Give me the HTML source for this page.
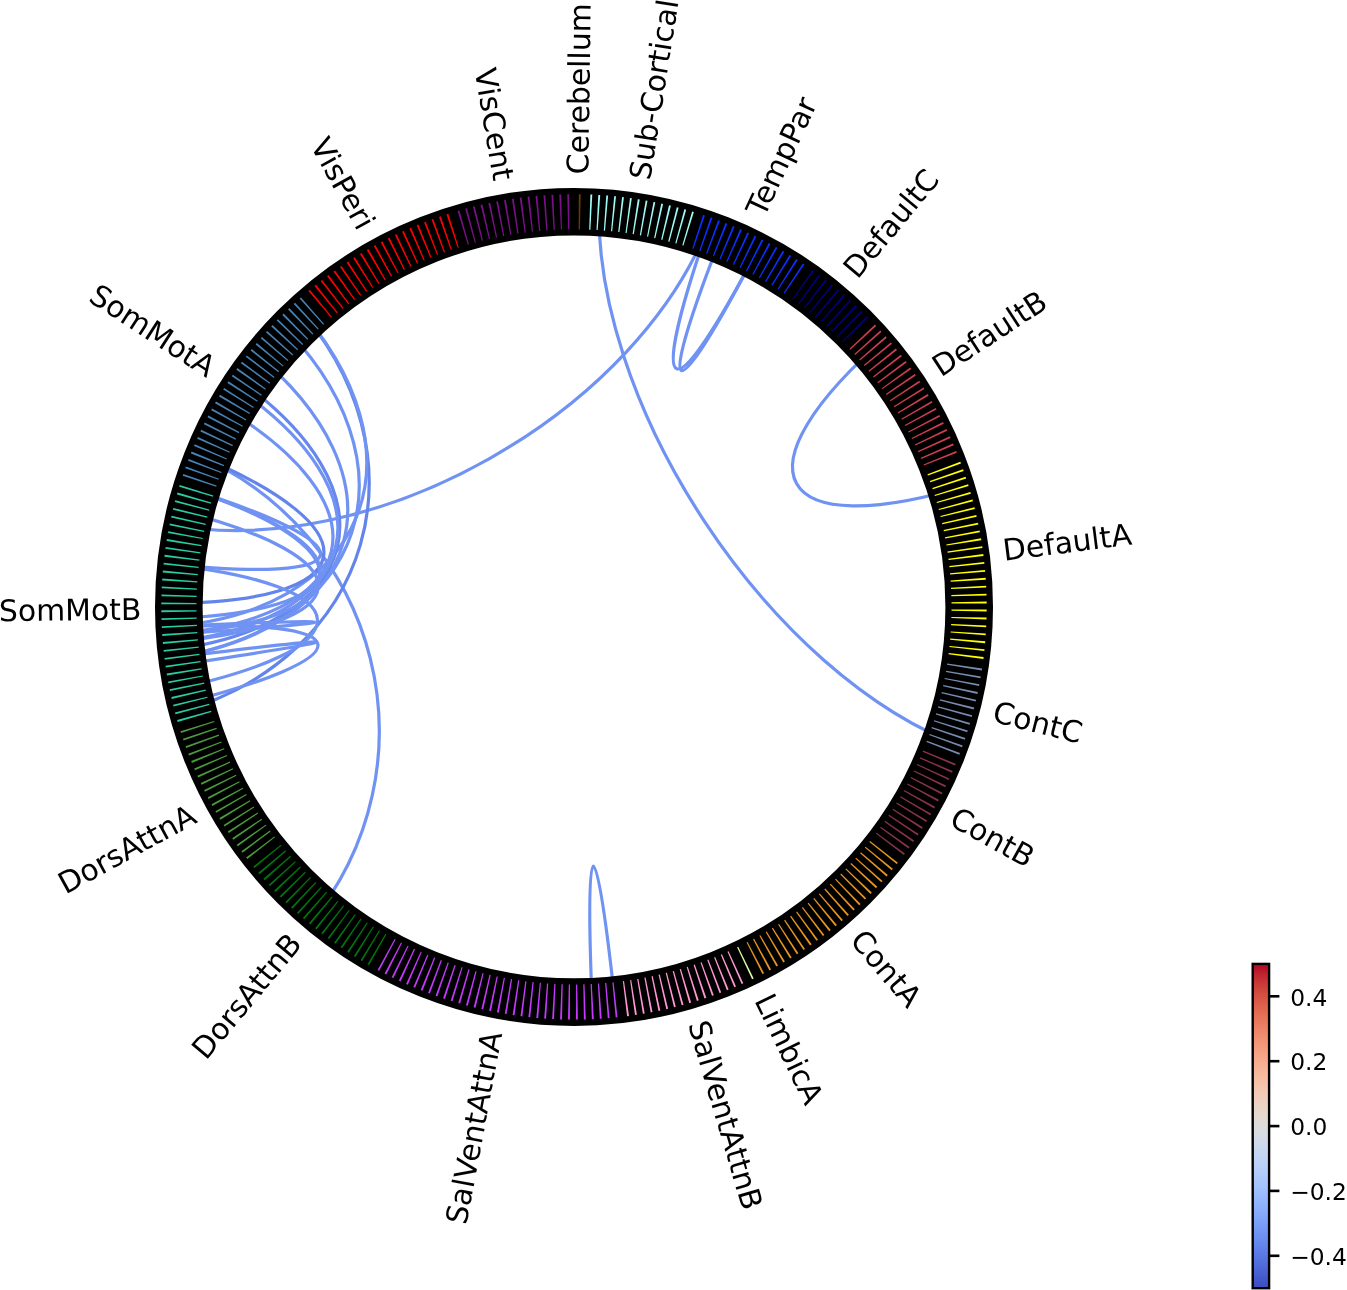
<!DOCTYPE html>
<html lang="en"><head><meta charset="utf-8"><title>Connectivity circle</title>
<style>html,body{margin:0;padding:0;background:#fff}body{width:1347px;height:1290px;overflow:hidden}svg{display:block}</style></head>
<body>
<svg width="1347" height="1290" viewBox="0 0 1347 1290">
<rect width="1347" height="1290" fill="#fff"/>
<g fill="none" stroke-width="3.2">
<path d="M599.5 191.7C586.7 399.3 769.7 677.2 965.5 747.6" stroke="#7093f3"/>
<path d="M712.6 214.7C643.3 410.8 370.2 565.3 166.4 523.7" stroke="#7093f3"/>
<path d="M712.6 214.7C643.3 410.8 669.0 421.9 764.1 236.9" stroke="#7093f3"/>
<path d="M727.6 220.3C650.8 413.6 669.0 421.9 764.1 236.9" stroke="#7093f3"/>
<path d="M888.7 334.9C731.4 470.9 772.7 545.5 971.5 484.2" stroke="#7093f3"/>
<path d="M616.9 1020.7C595.5 813.8 583.5 814.7 593.0 1022.5" stroke="#7093f3"/>
<path d="M307.5 926.4C440.8 766.6 381.1 529.1 188.2 451.3" stroke="#7093f3"/>
<path d="M292.2 300.9C433.1 453.9 373.0 660.6 172.1 714.2" stroke="#6384eb"/>
<path d="M292.2 300.9C433.1 453.9 366.3 617.1 158.5 627.3" stroke="#7093f3"/>
<path d="M275.0 317.7C424.5 462.3 367.7 633.1 161.3 659.2" stroke="#7093f3"/>
<path d="M248.6 347.8C411.3 477.3 367.7 633.1 161.3 659.2" stroke="#7093f3"/>
<path d="M229.6 373.6C401.8 490.2 367.2 629.1 160.4 651.3" stroke="#6687ed"/>
<path d="M225.2 380.3C399.6 493.6 366.8 625.1 159.6 643.3" stroke="#7093f3"/>
<path d="M212.6 400.8C393.3 503.9 366.5 621.1 159.0 635.3" stroke="#7093f3"/>
<path d="M188.2 451.3C381.1 529.1 366.0 605.1 158.0 603.3" stroke="#6384eb"/>
<path d="M176.3 484.9C375.1 545.9 367.1 585.1 160.3 563.3" stroke="#7093f3"/>
<path d="M176.3 484.9C375.1 545.9 366.1 613.1 158.2 619.3" stroke="#7093f3"/>
<path d="M176.3 484.9C375.1 545.9 366.5 621.1 159.0 635.3" stroke="#7093f3"/>
<path d="M169.9 508.1C372.0 557.5 366.8 625.1 159.6 643.3" stroke="#7093f3"/>
<path d="M160.3 563.3C367.1 585.1 370.3 648.9 166.6 690.8" stroke="#7093f3"/>
<path d="M158.5 627.3C366.3 617.1 372.0 656.7 170.1 706.5" stroke="#7093f3"/>
<path d="M158.5 627.3C366.3 617.1 366.5 621.1 159.0 635.3" stroke="#7093f3"/>
<path d="M161.3 659.2C367.7 633.1 368.2 637.0 162.4 667.2" stroke="#7093f3"/>
</g>
<circle cx="574.0" cy="606.9" r="395.20" fill="none" stroke="#000" stroke-width="47.60"/>
<g fill="#781286">
<path d="M569.3 229.4L569.2 194.2L567.3 194.3L568.1 229.4Z"/>
<path d="M562.0 229.6L561.2 194.4L559.3 194.5L560.9 229.6Z"/>
<path d="M554.8 229.9L553.3 194.7L551.4 194.8L553.6 230.0Z"/>
<path d="M547.5 230.3L545.3 195.2L543.5 195.3L546.3 230.4Z"/>
<path d="M540.3 230.9L537.4 195.8L535.5 196.0L539.1 231.0Z"/>
<path d="M533.0 231.6L529.5 196.6L527.6 196.8L531.8 231.8Z"/>
<path d="M525.8 232.5L521.6 197.5L519.7 197.8L524.6 232.6Z"/>
<path d="M518.6 233.5L513.7 198.6L511.9 198.9L517.4 233.7Z"/>
<path d="M511.4 234.6L505.9 199.9L504.0 200.2L510.2 234.8Z"/>
<path d="M504.3 235.9L498.0 201.2L496.2 201.6L503.1 236.1Z"/>
<path d="M497.1 237.3L490.2 202.8L488.4 203.2L496.0 237.6Z"/>
<path d="M490.0 238.9L482.5 204.5L480.6 204.9L488.9 239.1Z"/>
<path d="M483.0 240.5L474.7 206.3L472.9 206.8L481.8 240.8Z"/>
<path d="M475.9 242.4L467.0 208.3L465.2 208.8L474.8 242.7Z"/>
<path d="M468.9 244.3L459.4 210.4L457.6 211.0L467.8 244.7Z"/>
</g>
<g fill="#ff0000">
<path d="M458.8 247.4L448.3 213.8L446.5 214.4L457.7 247.8Z"/>
<path d="M451.9 249.7L440.8 216.3L439.0 216.9L450.8 250.1Z"/>
<path d="M445.0 252.1L433.3 218.9L431.5 219.6L443.9 252.5Z"/>
<path d="M438.2 254.7L425.8 221.7L424.1 222.4L437.1 255.1Z"/>
<path d="M431.5 257.3L418.4 224.6L416.7 225.3L430.4 257.8Z"/>
<path d="M424.8 260.2L411.1 227.7L409.4 228.4L423.7 260.6Z"/>
<path d="M418.1 263.1L403.8 230.9L402.1 231.7L417.0 263.6Z"/>
<path d="M411.5 266.2L396.6 234.3L394.9 235.1L410.4 266.7Z"/>
<path d="M405.0 269.4L389.5 237.7L387.8 238.6L403.9 269.9Z"/>
<path d="M398.5 272.7L382.4 241.4L380.7 242.2L397.5 273.2Z"/>
<path d="M392.1 276.1L375.4 245.1L373.8 246.0L391.1 276.7Z"/>
<path d="M385.8 279.7L368.5 249.0L366.8 250.0L384.7 280.3Z"/>
<path d="M379.5 283.4L361.6 253.0L360.0 254.0L378.5 284.0Z"/>
<path d="M373.3 287.2L354.8 257.2L353.2 258.2L372.3 287.8Z"/>
<path d="M367.2 291.1L348.1 261.5L346.6 262.5L366.2 291.8Z"/>
<path d="M361.1 295.1L341.5 265.9L340.0 267.0L360.2 295.8Z"/>
<path d="M355.2 299.3L335.0 270.5L333.5 271.5L354.2 300.0Z"/>
<path d="M349.3 303.6L328.6 275.1L327.1 276.2L348.3 304.3Z"/>
<path d="M343.5 308.0L322.2 279.9L320.7 281.1L342.5 308.7Z"/>
<path d="M337.8 312.5L316.0 284.8L314.5 286.0L336.8 313.2Z"/>
<path d="M332.1 317.1L309.8 289.8L308.4 291.0L331.2 317.8Z"/>
</g>
<g fill="#4682b4">
<path d="M324.1 323.9L301.0 297.4L299.6 298.6L323.2 324.7Z"/>
<path d="M318.7 328.8L295.1 302.7L293.7 303.9L317.8 329.6Z"/>
<path d="M313.4 333.8L289.3 308.1L288.0 309.4L312.5 334.6Z"/>
<path d="M308.2 338.8L283.6 313.6L282.3 315.0L307.3 339.7Z"/>
<path d="M303.1 344.0L278.0 319.3L276.7 320.6L302.3 344.9Z"/>
<path d="M298.1 349.3L272.5 325.1L271.3 326.4L297.3 350.2Z"/>
<path d="M293.2 354.6L267.2 330.9L265.9 332.3L292.4 355.5Z"/>
<path d="M288.3 360.1L261.9 336.9L260.7 338.3L287.6 361.0Z"/>
<path d="M283.6 365.7L256.8 342.9L255.6 344.4L282.9 366.6Z"/>
<path d="M279.1 371.3L251.7 349.1L250.6 350.6L278.3 372.2Z"/>
<path d="M274.6 377.0L246.8 355.4L245.7 356.8L273.8 378.0Z"/>
<path d="M270.2 382.8L242.0 361.7L240.9 363.2L269.5 383.8Z"/>
<path d="M265.9 388.7L237.4 368.1L236.3 369.7L265.2 389.7Z"/>
<path d="M261.8 394.7L232.8 374.7L231.8 376.2L261.1 395.7Z"/>
<path d="M257.8 400.7L228.4 381.3L227.4 382.9L257.1 401.7Z"/>
<path d="M253.8 406.9L224.1 388.0L223.2 389.6L253.2 407.9Z"/>
<path d="M250.1 413.1L220.0 394.8L219.0 396.4L249.4 414.1Z"/>
<path d="M246.4 419.4L216.0 401.6L215.0 403.2L245.8 420.4Z"/>
<path d="M242.8 425.7L212.1 408.6L211.2 410.2L242.3 426.8Z"/>
<path d="M239.4 432.1L208.3 415.6L207.5 417.2L238.8 433.2Z"/>
<path d="M236.1 438.6L204.7 422.6L203.9 424.3L235.6 439.7Z"/>
<path d="M232.9 445.1L201.2 429.8L200.4 431.5L232.4 446.2Z"/>
<path d="M229.9 451.7L197.9 437.0L197.1 438.7L229.4 452.8Z"/>
<path d="M226.9 458.4L194.7 444.3L194.0 446.0L226.5 459.5Z"/>
<path d="M224.1 465.1L191.6 451.6L190.9 453.4L223.7 466.2Z"/>
<path d="M221.5 471.9L188.7 459.0L188.0 460.8L221.1 473.0Z"/>
<path d="M218.9 478.7L185.9 466.5L185.3 468.2L218.5 479.8Z"/>
<path d="M216.5 485.6L183.3 474.0L182.7 475.7L216.2 486.7Z"/>
</g>
<g fill="#2acca4">
<path d="M213.3 495.6L179.7 485.0L179.2 486.7L212.9 496.7Z"/>
<path d="M211.2 502.6L177.5 492.6L176.9 494.4L210.9 503.7Z"/>
<path d="M209.3 509.6L175.3 500.2L174.8 502.0L209.0 510.7Z"/>
<path d="M207.5 516.6L173.3 507.9L172.9 509.7L207.2 517.8Z"/>
<path d="M205.8 523.7L171.5 515.7L171.1 517.5L205.5 524.9Z"/>
<path d="M204.2 530.8L169.8 523.4L169.5 525.3L204.0 532.0Z"/>
<path d="M202.9 537.9L168.3 531.2L168.0 533.1L202.6 539.1Z"/>
<path d="M201.6 545.1L166.9 539.1L166.6 540.9L201.4 546.3Z"/>
<path d="M200.5 552.3L165.7 546.9L165.4 548.8L200.3 553.5Z"/>
<path d="M199.5 559.5L164.6 554.8L164.4 556.7L199.3 560.7Z"/>
<path d="M198.6 566.7L163.7 562.7L163.5 564.6L198.5 567.9Z"/>
<path d="M197.9 574.0L162.9 570.6L162.7 572.5L197.8 575.2Z"/>
<path d="M197.4 581.2L162.3 578.5L162.2 580.4L197.3 582.4Z"/>
<path d="M196.9 588.5L161.8 586.5L161.7 588.3L196.9 589.7Z"/>
<path d="M196.7 595.7L161.5 594.4L161.4 596.3L196.6 596.9Z"/>
<path d="M196.5 603.0L161.3 602.4L161.3 604.2L196.5 604.2Z"/>
<path d="M196.5 610.3L161.3 610.3L161.3 612.2L196.5 611.5Z"/>
<path d="M196.6 617.6L161.5 618.3L161.5 620.1L196.7 618.7Z"/>
<path d="M196.9 624.8L161.8 626.2L161.8 628.1L197.0 626.0Z"/>
<path d="M197.3 632.1L162.2 634.1L162.3 636.0L197.4 633.3Z"/>
<path d="M197.9 639.3L162.8 642.1L163.0 643.9L198.0 640.5Z"/>
<path d="M198.6 646.6L163.6 650.0L163.8 651.8L198.7 647.8Z"/>
<path d="M199.4 653.8L164.5 657.9L164.7 659.7L199.6 655.0Z"/>
<path d="M200.4 661.0L165.5 665.8L165.8 667.6L200.6 662.2Z"/>
<path d="M201.5 668.2L166.7 673.6L167.0 675.5L201.7 669.4Z"/>
<path d="M202.8 675.4L168.1 681.5L168.4 683.3L203.0 676.5Z"/>
<path d="M204.1 682.5L169.6 689.3L170.0 691.1L204.4 683.7Z"/>
<path d="M205.7 689.6L171.3 697.0L171.7 698.9L205.9 690.8Z"/>
<path d="M207.3 696.7L173.1 704.8L173.5 706.6L207.6 697.8Z"/>
<path d="M209.1 703.7L175.0 712.5L175.5 714.3L209.4 704.9Z"/>
<path d="M211.1 710.7L177.1 720.1L177.7 721.9L211.4 711.9Z"/>
</g>
<g fill="#4a9b3c">
<path d="M214.1 720.9L180.5 731.2L181.0 733.0L214.5 722.0Z"/>
<path d="M216.4 727.8L182.9 738.8L183.5 740.5L216.8 728.9Z"/>
<path d="M218.8 734.6L185.5 746.3L186.2 748.0L219.2 735.8Z"/>
<path d="M221.3 741.5L188.3 753.7L189.0 755.5L221.7 742.6Z"/>
<path d="M224.0 748.2L191.2 761.1L191.9 762.9L224.4 749.3Z"/>
<path d="M226.7 754.9L194.2 768.5L195.0 770.2L227.2 756.0Z"/>
<path d="M229.7 761.6L197.4 775.8L198.2 777.5L230.1 762.7Z"/>
<path d="M232.7 768.2L200.8 783.0L201.6 784.7L233.2 769.3Z"/>
<path d="M235.9 774.8L204.2 790.1L205.0 791.8L236.4 775.8Z"/>
<path d="M239.2 781.2L207.8 797.2L208.7 798.9L239.7 782.3Z"/>
<path d="M242.6 787.7L211.5 804.3L212.4 805.9L243.2 788.7Z"/>
<path d="M246.1 794.0L215.4 811.2L216.3 812.8L246.7 795.0Z"/>
<path d="M249.8 800.3L219.4 818.1L220.4 819.7L250.4 801.3Z"/>
<path d="M253.6 806.5L223.6 824.9L224.5 826.4L254.2 807.5Z"/>
<path d="M257.5 812.6L227.8 831.6L228.8 833.1L258.1 813.6Z"/>
<path d="M261.5 818.7L232.2 838.2L233.3 839.7L262.2 819.7Z"/>
<path d="M265.6 824.7L236.7 844.7L237.8 846.3L266.3 825.6Z"/>
<path d="M269.9 830.6L241.4 851.2L242.5 852.7L270.6 831.5Z"/>
<path d="M274.3 836.4L246.1 857.6L247.3 859.0L275.0 837.3Z"/>
</g>
<g fill="#00760e">
<path d="M280.8 844.7L253.3 866.6L254.5 868.1L281.6 845.6Z"/>
<path d="M285.4 850.3L258.3 872.8L259.6 874.2L286.2 851.2Z"/>
<path d="M290.2 855.8L263.5 878.8L264.8 880.2L291.0 856.7Z"/>
<path d="M295.0 861.2L268.8 884.7L270.1 886.1L295.8 862.1Z"/>
<path d="M300.0 866.5L274.2 890.6L275.5 891.9L300.8 867.4Z"/>
<path d="M305.0 871.8L279.7 896.3L281.1 897.6L305.9 872.6Z"/>
<path d="M310.2 876.9L285.4 901.9L286.7 903.2L311.0 877.7Z"/>
<path d="M315.4 881.9L291.1 907.4L292.5 908.7L316.3 882.8Z"/>
<path d="M320.8 886.9L297.0 912.8L298.3 914.0L321.7 887.7Z"/>
<path d="M326.2 891.7L302.9 918.1L304.3 919.3L327.1 892.5Z"/>
<path d="M331.7 896.4L308.9 923.2L310.4 924.4L332.7 897.2Z"/>
<path d="M337.4 901.0L315.1 928.3L316.5 929.4L338.3 901.8Z"/>
<path d="M343.1 905.5L321.3 933.2L322.8 934.3L344.0 906.3Z"/>
<path d="M348.9 909.9L327.7 938.0L329.2 939.1L349.8 910.6Z"/>
<path d="M354.8 914.2L334.1 942.7L335.6 943.8L355.7 914.9Z"/>
<path d="M360.7 918.4L340.6 947.3L342.1 948.3L361.7 919.0Z"/>
<path d="M366.8 922.4L347.2 951.7L348.8 952.7L367.8 923.1Z"/>
<path d="M372.9 926.4L353.9 956.0L355.5 957.0L373.9 927.0Z"/>
<path d="M379.1 930.2L360.6 960.2L362.2 961.1L380.1 930.8Z"/>
<path d="M385.3 933.9L367.5 964.2L369.1 965.1L386.4 934.5Z"/>
</g>
<g fill="#c43afa">
<path d="M394.6 939.0L377.6 969.9L379.2 970.7L395.6 939.6Z"/>
<path d="M401.0 942.4L384.6 973.6L386.3 974.4L402.0 943.0Z"/>
<path d="M407.5 945.7L391.7 977.2L393.4 978.0L408.5 946.2Z"/>
<path d="M414.0 948.8L398.9 980.6L400.6 981.4L415.1 949.3Z"/>
<path d="M420.7 951.8L406.1 983.9L407.8 984.7L421.7 952.3Z"/>
<path d="M427.3 954.7L413.4 987.1L415.1 987.8L428.4 955.2Z"/>
<path d="M434.1 957.5L420.7 990.1L422.5 990.8L435.2 957.9Z"/>
<path d="M440.8 960.1L428.1 993.0L429.9 993.6L441.9 960.6Z"/>
<path d="M447.7 962.6L435.6 995.7L437.4 996.3L448.8 963.0Z"/>
<path d="M454.5 965.0L443.1 998.3L444.9 998.9L455.7 965.4Z"/>
<path d="M461.5 967.2L450.7 1000.7L452.5 1001.3L462.6 967.6Z"/>
<path d="M468.4 969.3L458.3 1003.1L460.1 1003.6L469.6 969.7Z"/>
<path d="M475.4 971.3L466.0 1005.2L467.8 1005.7L476.6 971.6Z"/>
<path d="M482.5 973.1L473.6 1007.2L475.5 1007.7L483.6 973.4Z"/>
<path d="M489.5 974.8L481.4 1009.1L483.2 1009.5L490.7 975.1Z"/>
<path d="M496.6 976.4L489.1 1010.8L491.0 1011.2L497.8 976.6Z"/>
<path d="M503.8 977.8L496.9 1012.3L498.8 1012.7L504.9 978.0Z"/>
<path d="M510.9 979.1L504.8 1013.8L506.6 1014.1L512.1 979.3Z"/>
<path d="M518.1 980.2L512.6 1015.0L514.5 1015.3L519.3 980.4Z"/>
<path d="M525.3 981.2L520.5 1016.1L522.3 1016.4L526.5 981.4Z"/>
<path d="M532.5 982.1L528.4 1017.1L530.2 1017.3L533.7 982.2Z"/>
<path d="M539.8 982.8L536.3 1017.9L538.2 1018.0L540.9 983.0Z"/>
<path d="M547.0 983.4L544.2 1018.5L546.1 1018.7L548.2 983.5Z"/>
<path d="M554.3 983.9L552.1 1019.0L554.0 1019.1L555.5 983.9Z"/>
<path d="M561.5 984.2L560.1 1019.4L562.0 1019.4L562.7 984.2Z"/>
<path d="M568.8 984.4L568.0 1019.6L569.9 1019.6L570.0 984.4Z"/>
<path d="M576.1 984.4L576.0 1019.6L577.9 1019.6L577.3 984.4Z"/>
<path d="M583.3 984.3L583.9 1019.5L585.8 1019.4L584.5 984.3Z"/>
<path d="M590.6 984.0L591.9 1019.2L593.8 1019.1L591.8 984.0Z"/>
<path d="M597.9 983.6L599.8 1018.8L601.7 1018.7L599.1 983.6Z"/>
<path d="M605.1 983.1L607.8 1018.2L609.6 1018.1L606.3 983.0Z"/>
<path d="M612.4 982.4L615.7 1017.5L617.5 1017.3L613.6 982.3Z"/>
</g>
<g fill="#ff98d5">
<path d="M622.9 981.2L627.1 1016.2L629.0 1015.9L624.0 981.1Z"/>
<path d="M630.1 980.2L635.0 1015.1L636.9 1014.8L631.2 980.0Z"/>
<path d="M637.2 979.1L642.9 1013.8L644.7 1013.5L638.4 978.9Z"/>
<path d="M644.4 977.8L650.7 1012.4L652.5 1012.1L645.6 977.6Z"/>
<path d="M651.5 976.4L658.5 1010.9L660.3 1010.5L652.7 976.1Z"/>
<path d="M658.6 974.8L666.3 1009.2L668.1 1008.7L659.8 974.5Z"/>
<path d="M665.7 973.1L674.0 1007.3L675.8 1006.8L666.9 972.8Z"/>
<path d="M672.7 971.3L681.7 1005.3L683.5 1004.8L673.9 970.9Z"/>
<path d="M679.7 969.3L689.3 1003.2L691.1 1002.6L680.9 969.0Z"/>
<path d="M686.7 967.2L696.9 1000.9L698.7 1000.3L687.8 966.8Z"/>
<path d="M693.6 964.9L704.5 998.4L706.3 997.8L694.8 964.6Z"/>
<path d="M700.5 962.6L712.0 995.8L713.8 995.2L701.6 962.2Z"/>
<path d="M707.3 960.1L719.5 993.1L721.2 992.4L708.4 959.6Z"/>
<path d="M714.1 957.4L726.9 990.2L728.6 989.5L715.2 957.0Z"/>
<path d="M720.8 954.7L734.3 987.2L736.0 986.5L721.9 954.2Z"/>
<path d="M727.5 951.8L741.6 984.1L743.3 983.3L728.6 951.3Z"/>
</g>
<g fill="#dcf8a4">
<path d="M737.1 947.3L752.1 979.2L753.7 978.4L738.2 946.8Z"/>
</g>
<g fill="#e69422">
<path d="M746.6 942.6L762.4 974.1L764.1 973.2L747.6 942.1Z"/>
<path d="M753.0 939.3L769.4 970.4L771.1 969.5L754.1 938.7Z"/>
<path d="M759.4 935.8L776.4 966.6L778.0 965.6L760.4 935.2Z"/>
<path d="M765.7 932.1L783.3 962.6L784.9 961.6L766.7 931.5Z"/>
<path d="M771.9 928.4L790.1 958.5L791.7 957.5L772.9 927.7Z"/>
<path d="M778.1 924.5L796.8 954.3L798.4 953.3L779.1 923.9Z"/>
<path d="M784.1 920.5L803.5 949.9L805.0 948.9L785.1 919.8Z"/>
<path d="M790.1 916.4L810.1 945.4L811.6 944.3L791.1 915.7Z"/>
<path d="M796.1 912.2L816.5 940.8L818.0 939.7L797.0 911.5Z"/>
<path d="M801.9 907.8L822.9 936.1L824.4 934.9L802.8 907.1Z"/>
<path d="M807.7 903.4L829.2 931.2L830.7 930.1L808.6 902.7Z"/>
<path d="M813.3 898.8L835.4 926.2L836.9 925.1L814.2 898.1Z"/>
<path d="M818.9 894.2L841.5 921.2L842.9 919.9L819.8 893.4Z"/>
<path d="M824.4 889.4L847.5 915.9L848.9 914.7L825.3 888.6Z"/>
<path d="M829.8 884.5L853.4 910.6L854.8 909.3L830.7 883.7Z"/>
<path d="M835.1 879.6L859.2 905.2L860.6 903.9L835.9 878.7Z"/>
<path d="M840.3 874.5L864.9 899.6L866.2 898.3L841.1 873.6Z"/>
<path d="M845.4 869.3L870.5 894.0L871.8 892.6L846.2 868.4Z"/>
<path d="M850.4 864.0L876.0 888.2L877.3 886.8L851.2 863.1Z"/>
<path d="M855.3 858.6L881.3 882.3L882.6 880.9L856.1 857.8Z"/>
<path d="M860.1 853.2L886.6 876.4L887.8 874.9L860.9 852.3Z"/>
<path d="M864.8 847.6L891.7 870.3L892.9 868.8L865.5 846.7Z"/>
<path d="M869.4 842.0L896.7 864.1L897.9 862.7L870.1 841.0Z"/>
</g>
<g fill="#87324a">
<path d="M875.8 833.6L903.8 855.0L904.9 853.5L876.6 832.7Z"/>
<path d="M880.1 827.8L908.5 848.6L909.6 847.1L880.8 826.8Z"/>
<path d="M884.3 821.8L913.1 842.1L914.2 840.6L885.0 820.8Z"/>
<path d="M888.4 815.8L917.6 835.5L918.6 834.0L889.1 814.8Z"/>
<path d="M892.4 809.7L921.9 828.9L922.9 827.3L893.0 808.7Z"/>
<path d="M896.2 803.5L926.1 822.1L927.1 820.5L896.9 802.5Z"/>
<path d="M900.0 797.3L930.2 815.3L931.2 813.7L900.6 796.3Z"/>
<path d="M903.6 791.0L934.2 808.4L935.1 806.8L904.2 789.9Z"/>
<path d="M907.1 784.6L938.0 801.4L938.9 799.8L907.6 783.5Z"/>
<path d="M910.4 778.1L941.7 794.4L942.5 792.7L911.0 777.1Z"/>
<path d="M913.7 771.6L945.2 787.3L946.0 785.6L914.2 770.6Z"/>
<path d="M916.8 765.1L948.6 780.1L949.4 778.4L917.3 764.0Z"/>
<path d="M919.8 758.4L951.9 772.8L952.6 771.1L920.2 757.3Z"/>
<path d="M922.6 751.7L955.0 765.5L955.7 763.8L923.1 750.6Z"/>
</g>
<g fill="#778cb0">
<path d="M926.5 741.9L959.3 754.8L960.0 753.0L926.9 740.8Z"/>
<path d="M929.1 735.1L962.1 747.3L962.7 745.6L929.5 734.0Z"/>
<path d="M931.5 728.2L964.7 739.8L965.3 738.1L931.8 727.1Z"/>
<path d="M933.7 721.3L967.2 732.3L967.8 730.5L934.1 720.2Z"/>
<path d="M935.9 714.4L969.5 724.7L970.1 722.9L936.2 713.2Z"/>
<path d="M937.9 707.4L971.7 717.0L972.2 715.2L938.2 706.2Z"/>
<path d="M939.7 700.4L973.8 709.4L974.2 707.5L940.0 699.2Z"/>
<path d="M941.5 693.3L975.7 701.6L976.1 699.8L941.7 692.1Z"/>
<path d="M943.1 686.2L977.4 693.9L977.8 692.1L943.3 685.0Z"/>
<path d="M944.5 679.1L979.0 686.1L979.4 684.3L944.8 677.9Z"/>
<path d="M945.9 671.9L980.5 678.3L980.8 676.4L946.1 670.8Z"/>
<path d="M947.0 664.8L981.8 670.4L982.1 668.6L947.2 663.6Z"/>
</g>
<g fill="#ffff00">
<path d="M948.5 654.3L983.4 659.0L983.6 657.1L948.7 653.1Z"/>
<path d="M949.4 647.1L984.3 651.1L984.5 649.2L949.5 645.9Z"/>
<path d="M950.1 639.8L985.1 643.2L985.3 641.3L950.2 638.6Z"/>
<path d="M950.6 632.6L985.7 635.3L985.8 633.4L950.7 631.4Z"/>
<path d="M951.1 625.3L986.2 627.3L986.3 625.5L951.1 624.1Z"/>
<path d="M951.3 618.1L986.5 619.4L986.6 617.5L951.4 616.9Z"/>
<path d="M951.5 610.8L986.7 611.4L986.7 609.6L951.5 609.6Z"/>
<path d="M951.5 603.5L986.7 603.5L986.7 601.6L951.5 602.3Z"/>
<path d="M951.4 596.2L986.5 595.5L986.5 593.7L951.3 595.1Z"/>
<path d="M951.1 589.0L986.2 587.6L986.2 585.7L951.0 587.8Z"/>
<path d="M950.7 581.7L985.8 579.7L985.7 577.8L950.6 580.5Z"/>
<path d="M950.1 574.5L985.2 571.7L985.0 569.9L950.0 573.3Z"/>
<path d="M949.4 567.2L984.4 563.8L984.2 562.0L949.3 566.0Z"/>
<path d="M948.6 560.0L983.5 555.9L983.3 554.1L948.4 558.8Z"/>
<path d="M947.6 552.8L982.5 548.0L982.2 546.2L947.4 551.6Z"/>
<path d="M946.5 545.6L981.3 540.2L981.0 538.3L946.3 544.4Z"/>
<path d="M945.2 538.4L979.9 532.3L979.6 530.5L945.0 537.3Z"/>
<path d="M943.9 531.3L978.4 524.5L978.0 522.7L943.6 530.1Z"/>
<path d="M942.3 524.2L976.7 516.8L976.3 514.9L942.1 523.0Z"/>
<path d="M940.7 517.1L974.9 509.0L974.5 507.2L940.4 516.0Z"/>
<path d="M938.9 510.1L973.0 501.3L972.5 499.5L938.6 508.9Z"/>
<path d="M936.9 503.1L970.9 493.7L970.3 491.9L936.6 501.9Z"/>
<path d="M934.9 496.1L968.6 486.0L968.1 484.2L934.5 494.9Z"/>
<path d="M932.7 489.2L966.2 478.4L965.6 476.7L932.3 488.0Z"/>
<path d="M930.3 482.3L963.7 470.9L963.0 469.2L929.9 481.1Z"/>
<path d="M927.9 475.4L961.0 463.4L960.3 461.7L927.5 474.3Z"/>
</g>
<g fill="#cd3e4e">
<path d="M924.0 465.6L956.8 452.7L956.1 450.9L923.6 464.5Z"/>
<path d="M921.3 458.9L953.8 445.3L953.0 443.6L920.8 457.8Z"/>
<path d="M918.3 452.2L950.6 438.0L949.8 436.3L917.9 451.1Z"/>
<path d="M915.3 445.6L947.2 430.8L946.4 429.1L914.8 444.5Z"/>
<path d="M912.1 439.0L943.8 423.7L943.0 422.0L911.6 438.0Z"/>
<path d="M908.8 432.6L940.2 416.6L939.3 414.9L908.3 431.5Z"/>
<path d="M905.4 426.1L936.5 409.5L935.6 407.9L904.8 425.1Z"/>
<path d="M901.9 419.8L932.6 402.6L931.7 401.0L901.3 418.8Z"/>
<path d="M898.2 413.5L928.6 395.7L927.6 394.1L897.6 412.5Z"/>
<path d="M894.4 407.3L924.4 388.9L923.5 387.4L893.8 406.3Z"/>
<path d="M890.5 401.2L920.2 382.2L919.2 380.7L889.9 400.2Z"/>
<path d="M886.5 395.1L915.8 375.6L914.7 374.1L885.8 394.1Z"/>
<path d="M882.4 389.1L911.3 369.1L910.2 367.5L881.7 388.2Z"/>
<path d="M878.1 383.2L906.6 362.6L905.5 361.1L877.4 382.3Z"/>
<path d="M873.7 377.4L901.9 356.2L900.7 354.8L873.0 376.5Z"/>
<path d="M869.3 371.7L897.0 350.0L895.8 348.5L868.5 370.8Z"/>
<path d="M864.7 366.0L892.0 343.8L890.8 342.4L863.9 365.1Z"/>
<path d="M860.0 360.5L886.8 337.7L885.6 336.3L859.2 359.6Z"/>
<path d="M855.2 355.0L881.6 331.7L880.3 330.4L854.4 354.1Z"/>
<path d="M850.3 349.7L876.2 325.9L875.0 324.5L849.5 348.8Z"/>
</g>
<g fill="#000082">
<path d="M843.0 342.0L868.3 317.5L866.9 316.2L842.1 341.2Z"/>
<path d="M837.8 336.9L862.6 311.9L861.3 310.6L837.0 336.1Z"/>
<path d="M832.6 331.9L856.9 306.4L855.5 305.1L831.7 331.0Z"/>
<path d="M827.2 326.9L851.0 301.0L849.7 299.8L826.3 326.1Z"/>
<path d="M821.8 322.1L845.1 295.7L843.7 294.5L820.9 321.3Z"/>
<path d="M816.3 317.4L839.1 290.6L837.6 289.4L815.3 316.6Z"/>
<path d="M810.6 312.8L832.9 285.5L831.5 284.4L809.7 312.0Z"/>
<path d="M804.9 308.3L826.7 280.6L825.2 279.5L804.0 307.5Z"/>
<path d="M799.1 303.9L820.3 275.8L818.8 274.7L798.2 303.2Z"/>
<path d="M793.2 299.6L813.9 271.1L812.4 270.0L792.3 298.9Z"/>
</g>
<g fill="#0c30ff">
<path d="M784.6 293.6L804.4 264.5L802.9 263.5L783.6 292.9Z"/>
<path d="M778.5 289.6L797.8 260.1L796.2 259.1L777.5 288.9Z"/>
<path d="M772.3 285.7L791.1 255.9L789.5 254.9L771.3 285.1Z"/>
<path d="M766.1 281.9L784.3 251.8L782.7 250.8L765.1 281.3Z"/>
<path d="M759.8 278.3L777.4 247.8L775.8 246.9L758.8 277.7Z"/>
<path d="M753.4 274.8L770.4 243.9L768.8 243.1L752.4 274.2Z"/>
<path d="M747.0 271.4L763.4 240.2L761.7 239.4L746.0 270.8Z"/>
<path d="M740.5 268.1L756.3 236.6L754.6 235.8L739.5 267.6Z"/>
<path d="M734.0 265.0L749.1 233.2L747.4 232.4L732.9 264.5Z"/>
<path d="M727.3 262.0L741.9 229.9L740.2 229.1L726.3 261.5Z"/>
<path d="M720.7 259.1L734.6 226.7L732.9 226.0L719.6 258.6Z"/>
<path d="M713.9 256.3L727.3 223.7L725.5 223.0L712.8 255.9Z"/>
<path d="M707.2 253.7L719.9 220.8L718.1 220.2L706.1 253.2Z"/>
<path d="M700.3 251.2L712.4 218.1L710.6 217.5L699.2 250.8Z"/>
<path d="M693.5 248.8L704.9 215.5L703.1 214.9L692.3 248.4Z"/>
</g>
<g fill="#a0faf5">
<path d="M683.4 245.6L693.9 212.0L692.1 211.5L682.3 245.3Z"/>
<path d="M676.4 243.6L686.2 209.8L684.4 209.2L675.3 243.2Z"/>
<path d="M669.4 241.7L678.6 207.7L676.8 207.2L668.2 241.4Z"/>
<path d="M662.3 239.9L670.9 205.7L669.0 205.3L661.2 239.6Z"/>
<path d="M655.3 238.2L663.1 203.9L661.3 203.5L654.1 238.0Z"/>
<path d="M648.1 236.8L655.3 202.3L653.5 201.9L647.0 236.5Z"/>
<path d="M641.0 235.4L647.5 200.8L645.7 200.5L639.8 235.2Z"/>
<path d="M633.8 234.2L639.7 199.5L637.8 199.2L632.6 234.0Z"/>
<path d="M626.6 233.1L631.8 198.3L630.0 198.0L625.5 232.9Z"/>
<path d="M619.4 232.1L623.9 197.2L622.1 197.0L618.2 232.0Z"/>
<path d="M612.2 231.3L616.0 196.3L614.2 196.2L611.0 231.2Z"/>
<path d="M605.0 230.7L608.1 195.6L606.3 195.5L603.8 230.6Z"/>
<path d="M597.7 230.1L600.2 195.0L598.3 194.9L596.5 230.1Z"/>
<path d="M590.4 229.8L592.3 194.6L590.4 194.5L589.2 229.7Z"/>
</g>
<g fill="#703802">
<path d="M579.9 229.4L580.7 194.3L578.8 194.2L578.7 229.4Z"/>
</g>
<g font-family="'DejaVu Sans','Liberation Sans',sans-serif" font-size="29.85" fill="#000">
<text transform="translate(501.61 180.36) rotate(-279.63)" text-anchor="end" y="8.24">VisCent</text>
<text transform="translate(364.94 228.13) rotate(-298.90)" text-anchor="end" y="8.24">VisPeri</text>
<text transform="translate(211.20 371.21) rotate(-326.99)" text-anchor="end" y="8.24">SomMotA</text>
<text transform="translate(141.38 611.46) rotate(-360.60)" text-anchor="end" y="8.24">SomMotB</text>
<text transform="translate(194.50 814.65) rotate(-388.70)" text-anchor="end" y="8.24">DorsAttnA</text>
<text transform="translate(296.89 939.14) rotate(-410.17)" text-anchor="end" y="8.24">DorsAttnB</text>
<text transform="translate(494.18 1032.11) rotate(-439.37)" text-anchor="end" y="8.24">SalVentAttnA</text>
<text transform="translate(695.85 1022.03) rotate(-286.36)" text-anchor="start" y="8.24">SalVentAttnB</text>
<text transform="translate(761.54 996.78) rotate(-295.69)" text-anchor="start" y="8.24">LimbicA</text>
<text transform="translate(855.19 935.70) rotate(-310.54)" text-anchor="start" y="8.24">ContA</text>
<text transform="translate(952.05 817.27) rotate(-330.91)" text-anchor="start" y="8.24">ContB</text>
<text transform="translate(993.34 713.36) rotate(-345.75)" text-anchor="start" y="8.24">ContC</text>
<text transform="translate(1003.20 552.48) rotate(-367.23)" text-anchor="start" y="8.24">DefaultA</text>
<text transform="translate(936.38 370.55) rotate(-393.11)" text-anchor="start" y="8.24">DefaultB</text>
<text transform="translate(851.11 274.66) rotate(-410.17)" text-anchor="start" y="8.24">DefaultC</text>
<text transform="translate(756.71 214.73) rotate(-425.02)" text-anchor="start" y="8.24">TempPar</text>
<text transform="translate(641.89 179.62) rotate(-440.97)" text-anchor="start" y="8.24">Sub-Cortical</text>
<text transform="translate(580.05 174.30) rotate(-449.20)" text-anchor="start" y="8.24">Cerebellum</text>
</g>
<defs><linearGradient id="cw" x1="0" y1="1" x2="0" y2="0">
<stop offset="0.0000" stop-color="#3b4cc0"/>
<stop offset="0.0312" stop-color="#445acc"/>
<stop offset="0.0625" stop-color="#4e68d8"/>
<stop offset="0.0938" stop-color="#5875e1"/>
<stop offset="0.1250" stop-color="#6282ea"/>
<stop offset="0.1562" stop-color="#6c8ff1"/>
<stop offset="0.1875" stop-color="#779af7"/>
<stop offset="0.2188" stop-color="#82a6fb"/>
<stop offset="0.2500" stop-color="#8db0fe"/>
<stop offset="0.2812" stop-color="#98b9ff"/>
<stop offset="0.3125" stop-color="#a3c2fe"/>
<stop offset="0.3438" stop-color="#aec9fc"/>
<stop offset="0.3750" stop-color="#b9d0f9"/>
<stop offset="0.4062" stop-color="#c3d5f4"/>
<stop offset="0.4375" stop-color="#ccd9ed"/>
<stop offset="0.4688" stop-color="#d5dbe5"/>
<stop offset="0.5000" stop-color="#dddcdc"/>
<stop offset="0.5312" stop-color="#e5d8d1"/>
<stop offset="0.5625" stop-color="#ecd3c5"/>
<stop offset="0.5938" stop-color="#f1ccb8"/>
<stop offset="0.6250" stop-color="#f5c4ac"/>
<stop offset="0.6562" stop-color="#f7ba9f"/>
<stop offset="0.6875" stop-color="#f7b093"/>
<stop offset="0.7188" stop-color="#f6a586"/>
<stop offset="0.7500" stop-color="#f4987a"/>
<stop offset="0.7812" stop-color="#f08b6e"/>
<stop offset="0.8125" stop-color="#eb7d62"/>
<stop offset="0.8438" stop-color="#e46e56"/>
<stop offset="0.8750" stop-color="#dd5f4b"/>
<stop offset="0.9062" stop-color="#d44e41"/>
<stop offset="0.9375" stop-color="#ca3b37"/>
<stop offset="0.9688" stop-color="#be242e"/>
<stop offset="1.0000" stop-color="#b40426"/>
</linearGradient></defs>
<rect x="1252.7" y="963.9" width="16.4" height="324.3" fill="url(#cw)" stroke="#000" stroke-width="2.4"/>
<g font-family="'DejaVu Sans','Liberation Sans',sans-serif" font-size="23.33" fill="#000">
<rect x="1269.1" y="995.0" width="10.3" height="2.6" fill="#000"/>
<text x="1290.2" y="1005.5">0.4</text>
<rect x="1269.1" y="1059.9" width="10.3" height="2.6" fill="#000"/>
<text x="1290.2" y="1070.4">0.2</text>
<rect x="1269.1" y="1124.8" width="10.3" height="2.6" fill="#000"/>
<text x="1290.2" y="1135.2">0.0</text>
<rect x="1269.1" y="1189.6" width="10.3" height="2.6" fill="#000"/>
<text x="1290.2" y="1200.1">−0.2</text>
<rect x="1269.1" y="1254.5" width="10.3" height="2.6" fill="#000"/>
<text x="1290.2" y="1265.0">−0.4</text>
</g>
</svg>
</body></html>
